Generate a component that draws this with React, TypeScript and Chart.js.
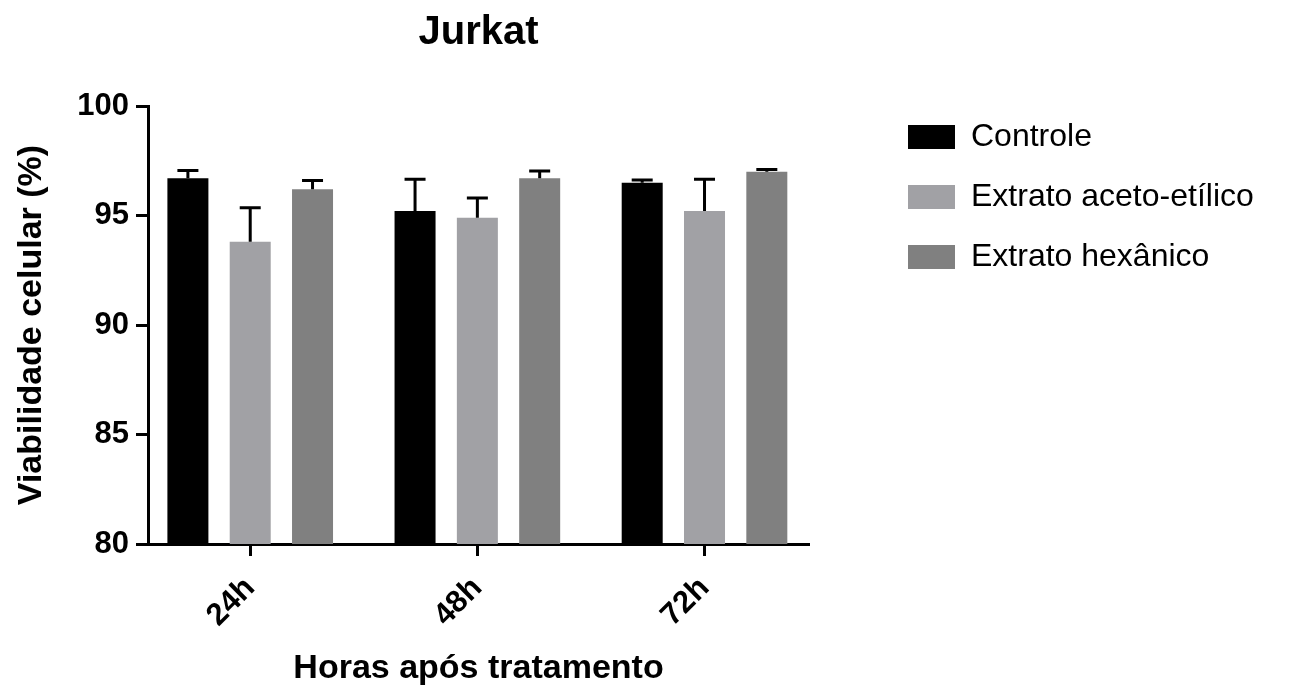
import React, { useEffect, useRef } from 'react';
import { Chart, registerables } from 'chart.js';

Chart.register(...registerables);

const categories = ['24h', '48h', '72h'];
const seriesNames = ['Controle', 'Extrato aceto-etílico', 'Extrato hexânico'];
const controle = [96.7, 95.2, 96.5];
const controleErr = [0.35, 1.45, 0.12];
const aceto = [93.8, 94.9, 95.2];
const acetoErr = [1.55, 0.9, 1.45];
const hexanico = [96.2, 96.7, 97.0];
const hexanicoErr = [0.4, 0.33, 0.1];
const yMin = 80;
const yMax = 100;
const yStep = 5;
const seriesColors = ['#000000', '#a1a1a5', '#808080'];

const FONT = "'Liberation Sans', Arial, sans-serif";
const LEGEND_FONT_SIZE = 32;
const LEGEND_BOX_W = 47;
const LEGEND_PAD = 28;
const LEGEND_ITEM_X = 908;
const CANVAS_W = 1305;

const errorBars = {
  id: 'errorBars',
  afterDatasetsDraw(chart: any) {
    const { ctx } = chart;
    const yScale = chart.scales.y;
    ctx.save();
    ctx.strokeStyle = '#000';
    ctx.lineWidth = 3;
    chart.data.datasets.forEach((ds: any, d: number) => {
      const meta = chart.getDatasetMeta(d);
      meta.data.forEach((bar: any, i: number) => {
        const v = ds.data[i].y;
        const yTop = yScale.getPixelForValue(v + ds.errors[i]);
        ctx.beginPath();
        ctx.moveTo(bar.x, bar.y);
        ctx.lineTo(bar.x, yTop);
        ctx.moveTo(bar.x - 10.5, yTop);
        ctx.lineTo(bar.x + 10.5, yTop);
        ctx.stroke();
      });
    });
    ctx.restore();
  },
};

function legendLayout() {
  const c = document.createElement('canvas');
  const ctx = c.getContext('2d');
  let w = 283;
  if (ctx) {
    ctx.font = `normal ${LEGEND_FONT_SIZE}px ${FONT}`;
    w = Math.max(...seriesNames.map((n) => ctx.measureText(n).width));
  }
  const legendWidth = LEGEND_PAD + LEGEND_BOX_W + LEGEND_FONT_SIZE / 2 + w + 10;
  const padRight = CANVAS_W - (LEGEND_ITEM_X - LEGEND_PAD) - legendWidth;
  return { padRight, legendWidth };
}

export default function App() {
  const canvasRef = useRef<HTMLCanvasElement | null>(null);

  useEffect(() => {
    if (!canvasRef.current) return;
    Chart.defaults.font.family = FONT;
    Chart.defaults.color = '#000';
    const values = [controle, aceto, hexanico];
    const errors = [controleErr, acetoErr, hexanicoErr];
    const { padRight, legendWidth } = legendLayout();
    const chart = new Chart(canvasRef.current, {
      type: 'bar',
      data: {
        datasets: seriesNames.map((name, d) => ({
          label: name,
          data: categories.map((_, i) => ({ x: i, y: values[d][i] })),
          errors: errors[d],
          backgroundColor: seriesColors[d],
          borderWidth: 0,
          categoryPercentage: 0.823,
          barPercentage: 0.658,
        })) as any,
      },
      options: {
        animation: false,
        responsive: true,
        maintainAspectRatio: false,
        events: [],
        layout: { padding: { left: 0, right: padRight, top: 0, bottom: 0 } },
        scales: {
          x: {
            type: 'linear',
            min: -0.45,
            max: 2.46,
            offset: false,
            afterBuildTicks: (s: any) => {
              s.ticks = categories.map((_, i) => ({ value: i }));
            },
            afterFit: (s: any) => {
              s.height = 149;
            },
            ticks: {
              callback: (v: any) => categories[v] ?? '',
              minRotation: 45,
              maxRotation: 45,
              autoSkip: false,
              padding: 14,
              color: '#000',
              font: { size: 31, weight: 'bold', family: FONT },
            },
            grid: {
              offset: false,
              drawOnChartArea: false,
              drawTicks: true,
              tickLength: 12,
              tickWidth: 3,
              tickColor: '#000',
            },
            border: { display: true, color: '#000', width: 3 },
            title: {
              display: true,
              text: 'Horas após tratamento',
              color: '#000',
              font: { size: 34, weight: 'bold', family: FONT },
              padding: { top: 0, bottom: 4 },
            },
          },
          y: {
            type: 'linear',
            min: yMin,
            max: yMax,
            afterFit: (s: any) => {
              s.width = 148;
            },
            ticks: {
              stepSize: yStep,
              padding: 7,
              color: '#000',
              font: { size: 31, weight: 'bold', family: FONT },
            },
            grid: {
              drawOnChartArea: false,
              drawTicks: true,
              tickLength: 12,
              tickWidth: 3,
              tickColor: '#000',
            },
            border: { display: true, color: '#000', width: 3 },
            title: {
              display: true,
              text: 'Viabilidade celular (%)',
              color: '#000',
              font: { size: 34, weight: 'bold', family: FONT },
              padding: { top: 11, bottom: 0 },
            },
          },
          y2: {
            type: 'linear',
            position: 'right',
            display: true,
            grid: { display: false },
            ticks: { display: false },
            border: { display: false },
            afterFit: (s: any) => {
              s.width = 71;
            },
          },
        },
        plugins: {
          tooltip: { enabled: false },
          title: {
            display: true,
            text: 'Jurkat',
            color: '#000',
            fullSize: false,
            font: { size: 40, weight: 'bold', family: FONT },
            padding: { top: 9, bottom: 49 },
          },
          legend: {
            position: 'right',
            align: 'start',
            maxWidth: Math.ceil(legendWidth) + 20,
            title: {
              display: true,
              text: ' ',
              font: { size: 10, lineHeight: 1 },
              padding: { top: 83, bottom: 0 },
            },
            labels: {
              boxWidth: LEGEND_BOX_W,
              boxHeight: 24,
              padding: LEGEND_PAD,
              color: '#000',
              font: { size: LEGEND_FONT_SIZE, family: FONT },
            },
          },
        },
      } as any,
      plugins: [errorBars],
    });
    return () => chart.destroy();
  }, []);

  return (
    <div style={{ position: 'absolute', left: 0, top: 0, width: CANVAS_W, height: 693, background: '#fff' }}>
      <canvas ref={canvasRef} />
    </div>
  );
}
